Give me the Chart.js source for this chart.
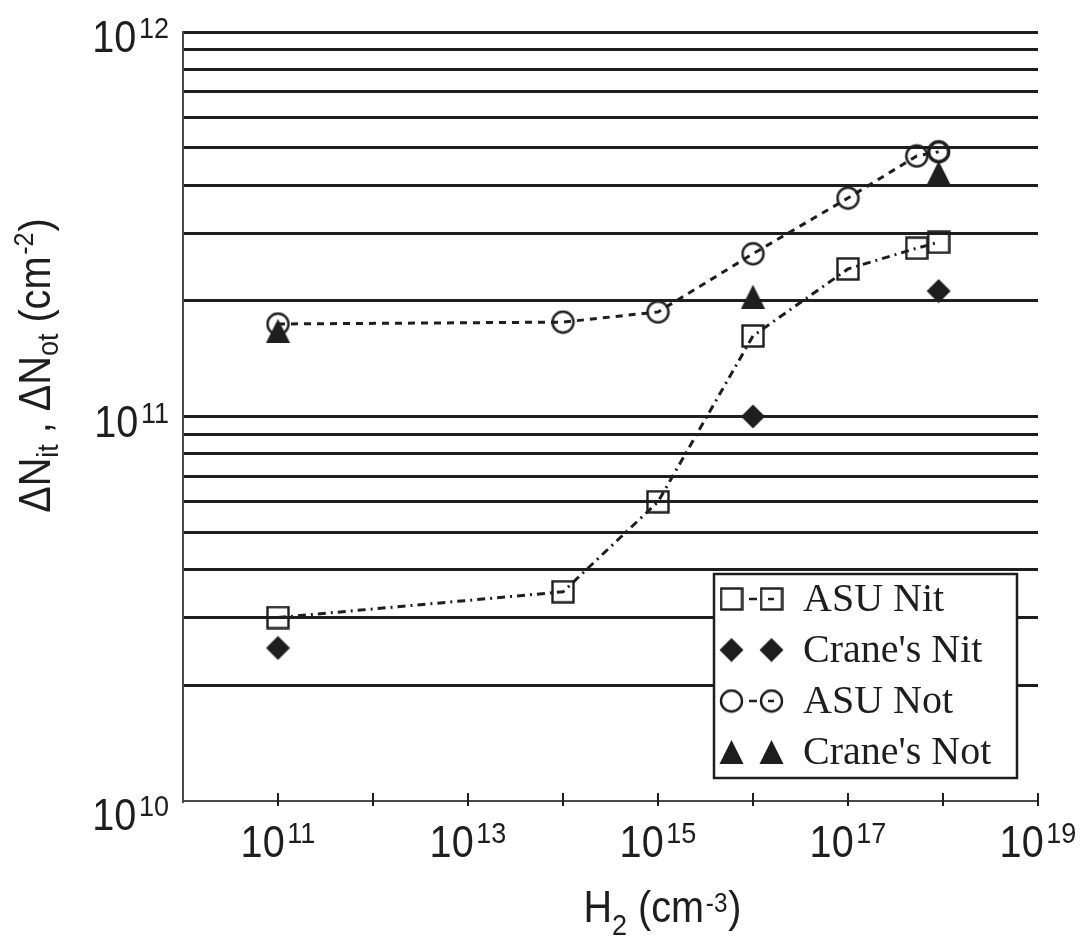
<!DOCTYPE html>
<html>
<head>
<meta charset="utf-8">
<script src="https://cdn.jsdelivr.net/npm/chart.js@4.4.1/dist/chart.umd.min.js"></script>
<style>
  html, body { margin: 0; padding: 0; background: #fff; }
  canvas { display: block; }
</style>
</head>
<body>
<canvas id="chart" width="1089" height="937"></canvas>
<script>
// H2 concentration (cm^-3) vs. defect density (cm^-2)
const asuNitH = [1e11, 1e14, 1e15, 1e16, 1e17, 5.3e17, 9e17];
const asuNitN = [3.0e10, 3.5e10, 6.0e10, 1.62e11, 2.42e11, 2.74e11, 2.84e11];

const craneNitH = [1e11, 1e16, 9e17];
const craneNitN = [2.5e10, 1.0e11, 2.12e11];

const asuNotH = [1e11, 1e14, 1e15, 1e16, 1e17, 5.3e17, 9e17];
const asuNotN = [1.74e11, 1.76e11, 1.87e11, 2.65e11, 3.70e11, 4.76e11, 4.88e11];

const craneNotH = [1e11, 1e16, 9e17];
const craneNotN = [1.67e11, 2.05e11, 4.3e11];

const seriesNames = ['ASU Nit', "Crane's Nit", 'ASU Not', "Crane's Not"];

// axis ranges, grid values and labelled exponents
const xRange = [1e10, 1e19];
const yRange = [1e10, 1e12];
const xMarks = [1e11, 1e12, 1e13, 1e14, 1e15, 1e16, 1e17, 1e18, 1e19];
const xLabelExp = [11, 13, 15, 17, 19];
const yLabelExp = [10, 11, 12];
const yGrid = [2e10, 3e10, 4e10, 5e10, 6e10, 7e10, 8e10, 9e10,
               1e11, 2e11, 3e11, 4e11, 5e11, 6e11, 7e11, 8e11, 9e11, 1e12];

const INK = '#1e1e1e';
const SANS = '"Liberation Sans", Arial, sans-serif';
const SERIF = '"Liberation Serif", "Times New Roman", serif';
const SX = 0.9; // axis text in this figure is a bit condensed

function toPoints(xs, ys) {
  return xs.map((x, i) => ({ x: x, y: ys[i] }));
}

// marker sprites
function sprite(w, h, draw) {
  const c = document.createElement('canvas');
  c.width = w; c.height = h;
  const g = c.getContext('2d');
  g.strokeStyle = INK; g.fillStyle = INK;
  draw(g);
  return c;
}
const squareMark = sprite(24, 24, g => { g.lineWidth = 2.4; g.strokeRect(1.5, 1.5, 21, 21); });
const circleMark = sprite(25, 25, g => { g.lineWidth = 2.4; g.beginPath(); g.arc(12.5, 12.5, 10.5, 0, Math.PI * 2); g.stroke(); });
const boldCircleMark = sprite(25, 25, g => { g.lineWidth = 3.4; g.beginPath(); g.arc(12.5, 12.5, 10, 0, Math.PI * 2); g.stroke(); });
const diamondMark = sprite(25, 25, g => {
  g.beginPath(); g.moveTo(12.5, 0.5); g.lineTo(24.5, 12.5); g.lineTo(12.5, 24.5); g.lineTo(0.5, 12.5); g.closePath(); g.fill();
});
const triangleMark = sprite(25, 24, g => {
  g.beginPath(); g.moveTo(12.5, 0); g.lineTo(24.5, 24); g.lineTo(0.5, 24); g.closePath(); g.fill();
});

// text runs with sub/superscripts
function runWidth(ctx, parts, family, sx) {
  let w = 0;
  parts.forEach(p => {
    ctx.font = p.size + 'px ' + family;
    w += (p.gap || 0) + ctx.measureText(p.text).width;
  });
  return w * sx;
}
function drawRun(ctx, parts, x, y, align, family, sx) {
  family = family || SANS;
  sx = sx || SX;
  const w = runWidth(ctx, parts, family, sx);
  const start = align === 'right' ? x - w : align === 'center' ? x - w / 2 : x;
  ctx.save();
  ctx.translate(start, y);
  ctx.scale(sx, 1);
  ctx.fillStyle = INK;
  ctx.textAlign = 'left';
  ctx.textBaseline = 'alphabetic';
  let cx = 0;
  parts.forEach(p => {
    ctx.font = p.size + 'px ' + family;
    cx += p.gap || 0;
    ctx.fillText(p.text, cx, p.dy || 0);
    cx += ctx.measureText(p.text).width;
  });
  ctx.restore();
}
function pow10(exp) {
  return [{ text: '10', size: 44 }, { text: String(exp), size: 30, dy: -14, gap: 3 }];
}

const decorations = {
  id: 'decorations',
  afterDraw(chart) {
    const ctx = chart.ctx;
    const xs = chart.scales.x, ys = chart.scales.y;
    const area = chart.chartArea;

    // decade tick marks across the x axis
    ctx.save();
    ctx.strokeStyle = INK;
    ctx.lineWidth = 2;
    xMarks.forEach(v => {
      const px = Math.round(xs.getPixelForValue(v));
      ctx.beginPath();
      ctx.moveTo(px, area.bottom - 8);
      ctx.lineTo(px, area.bottom + 5);
      ctx.stroke();
    });
    ctx.restore();

    xLabelExp.forEach(e => {
      drawRun(ctx, pow10(e), xs.getPixelForValue(Math.pow(10, e)), area.bottom + 56, 'center');
    });
    yLabelExp.forEach((e, i) => {
      const py = ys.getPixelForValue(Math.pow(10, e));
      drawRun(ctx, pow10(e), area.left - 14, py + (i === 0 ? 29 : 20), 'right');
    });

    // axis titles
    drawRun(ctx, [
      { text: 'H', size: 44 },
      { text: '2', size: 30, dy: 13 },
      { text: ' (cm', size: 44 },
      { text: '-3', size: 27, dy: -10, gap: 2 },
      { text: ')', size: 44, gap: 1 }
    ], (area.left + area.right) / 2 + 52, area.bottom + 121, 'center');

    ctx.save();
    ctx.translate(50, (area.top + area.bottom) / 2 - 51);
    ctx.rotate(-Math.PI / 2);
    drawRun(ctx, [
      { text: '\u0394N', size: 44 },
      { text: 'it', size: 30, dy: 8 },
      { text: ' , \u0394N', size: 44 },
      { text: 'ot', size: 30, dy: 8 },
      { text: ' (cm', size: 44 },
      { text: '-2', size: 28, dy: -17, gap: 2 },
      { text: ')', size: 44, gap: 1 }
    ], 0, 0, 'center');
    ctx.restore();

    // legend
    const bx = 714, by = 574, bw = 303, bh = 204;
    ctx.save();
    ctx.fillStyle = '#fff';
    ctx.fillRect(bx, by, bw, bh);
    ctx.strokeStyle = INK;
    ctx.lineWidth = 2.5;
    ctx.strokeRect(bx, by, bw, bh);
    const marks = [squareMark, diamondMark, circleMark, triangleMark];
    seriesNames.forEach((name, i) => {
      const cy = 599 + i * 51;
      const m = marks[i];
      ctx.drawImage(m, 731.5 - m.width / 2, cy - m.height / 2);
      ctx.drawImage(m, 771.5 - m.width / 2, cy - m.height / 2);
      if (i === 0 || i === 2) {
        ctx.lineWidth = 2.5;
        ctx.beginPath();
        ctx.moveTo(749, cy); ctx.lineTo(757, cy);
        ctx.moveTo(768, cy); ctx.lineTo(774, cy);
        ctx.stroke();
      }
      drawRun(ctx, [{ text: name, size: 40 }], 803, cy + 12, 'left', SERIF, 1);
    });
    ctx.restore();
  }
};

new Chart(document.getElementById('chart'), {
  type: 'line',
  data: {
    datasets: [
      {
        label: seriesNames[3],
        data: toPoints(craneNotH, craneNotN),
        showLine: false,
        pointStyle: triangleMark,
        pointRadius: 12
      },
      {
        label: seriesNames[1],
        data: toPoints(craneNitH, craneNitN),
        showLine: false,
        pointStyle: diamondMark,
        pointRadius: 12
      },
      {
        label: seriesNames[2],
        data: toPoints(asuNotH, asuNotN),
        borderColor: INK,
        borderWidth: 3,
        borderDash: [7, 6],
        pointStyle: asuNotH.map((h, i) => i === asuNotH.length - 1 ? boldCircleMark : circleMark),
        pointRadius: 12
      },
      {
        label: seriesNames[0],
        data: toPoints(asuNitH, asuNitN),
        borderColor: INK,
        borderWidth: 3,
        borderDash: [8, 5, 2, 5],
        pointStyle: squareMark,
        pointRadius: 12
      }
    ]
  },
  options: {
    responsive: false,
    animation: false,
    layout: { padding: { left: 183, right: 51, top: 32, bottom: 136 } },
    plugins: {
      legend: { display: false },
      tooltip: { enabled: false }
    },
    scales: {
      x: {
        type: 'logarithmic',
        min: xRange[0],
        max: xRange[1],
        grid: { display: false },
        ticks: { display: false },
        border: { display: true, color: '#4a4a4a', width: 2 },
        afterFit: s => { s.height = 0; }
      },
      y: {
        type: 'logarithmic',
        min: yRange[0],
        max: yRange[1],
        afterBuildTicks: s => { s.ticks = yGrid.map(v => ({ value: v })); },
        grid: { color: INK, lineWidth: 3, drawTicks: false },
        ticks: { display: false },
        border: { display: true, color: '#4a4a4a', width: 2 },
        afterFit: s => { s.width = 0; }
      }
    }
  },
  plugins: [decorations]
});
</script>
</body>
</html>
